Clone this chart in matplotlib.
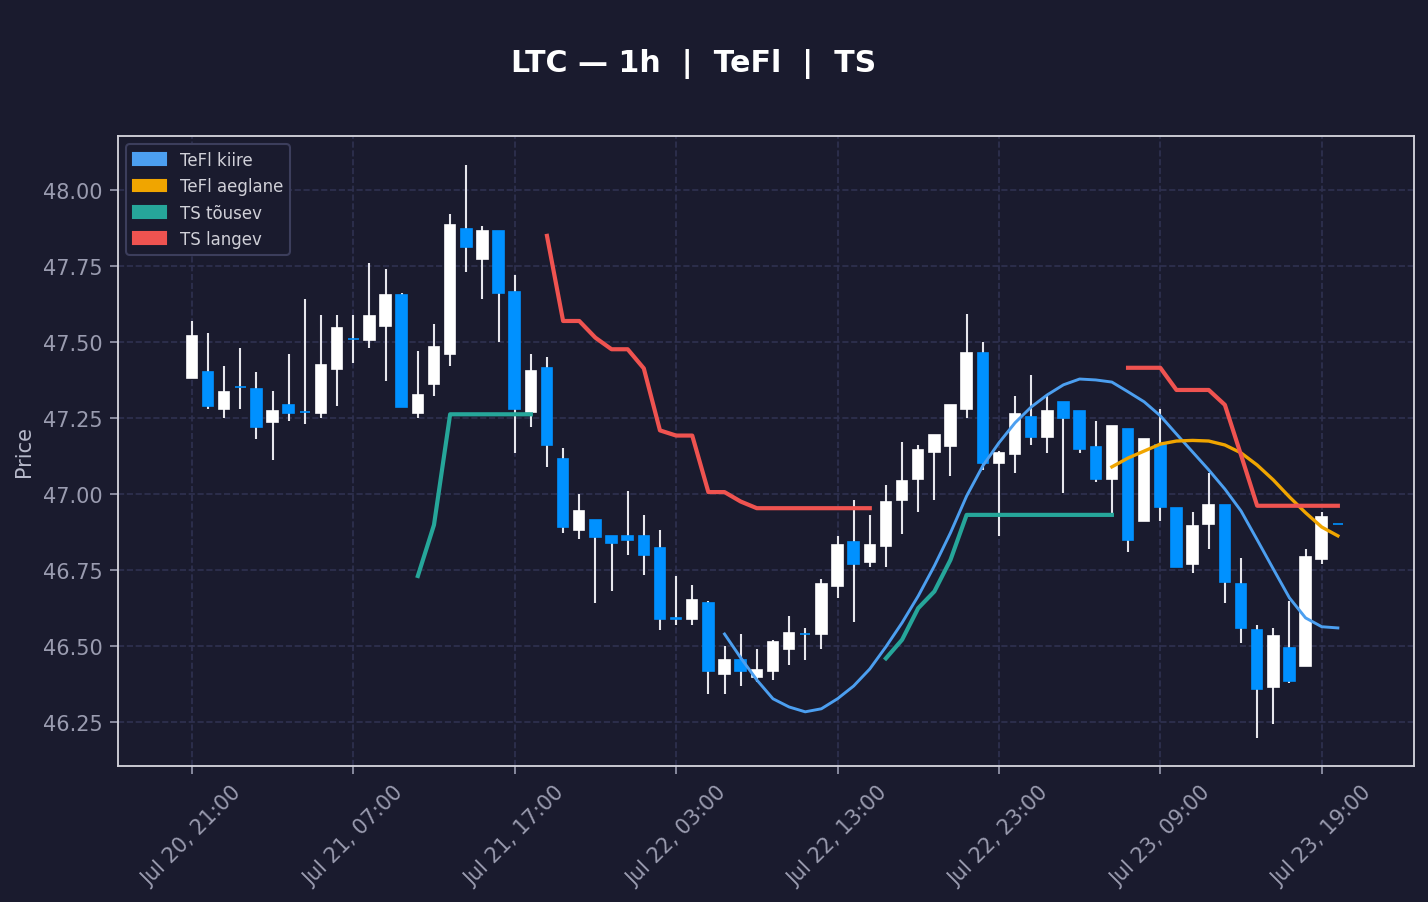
#!/usr/bin/env python3
"""LTC 1h candles with TeFl and TS overlays."""

import numpy as np
import pandas as pd
import matplotlib
matplotlib.use("Agg")
import matplotlib.pyplot as plt
import matplotlib.dates as mdates
from matplotlib.patches import Patch

BG = '#1a1b2e'
UP = '#ffffff'
DOWN = '#0091ff'
WICK = '#e6e6ec'
C_KIIRE = '#4c9ff0'
C_AEGLANE = '#f0a500'
C_TOUSEV = '#26a69a'
C_LANGEV = '#ef5350'

start = "2024-07-20 21:00"

opens = [47.38, 47.40, 47.28, 47.353, 47.345, 47.238, 47.292, 47.271, 47.267, 47.41,
         47.511, 47.508, 47.552, 47.654, 47.267, 47.361, 47.46, 47.873, 47.772, 47.864,
         47.664, 47.269, 47.413, 47.114, 46.881, 46.913, 46.86, 46.86, 46.86, 46.821,
         46.591, 46.588, 46.64, 46.407, 46.454, 46.397, 46.416, 46.489, 46.540, 46.538,
         46.698, 46.841, 46.777, 46.827, 46.979, 47.048, 47.139, 47.159, 47.279, 47.463,
         47.101, 47.131, 47.252, 47.188, 47.302, 47.272, 47.154, 47.048, 47.213, 46.91,
         47.161, 46.953, 46.769, 46.90, 46.963, 46.703, 46.552, 46.366, 46.492, 46.435,
         46.787, 46.902]
highs = [47.57, 47.53, 47.42, 47.48, 47.40, 47.34, 47.46, 47.64, 47.59, 47.59,
         47.59, 47.76, 47.74, 47.66, 47.47, 47.56, 47.92, 48.081, 47.882, 47.864,
         47.719, 47.461, 47.45, 47.15, 47.0, 46.913, 46.86, 47.01, 46.93, 46.882,
         46.73, 46.701, 46.648, 46.50, 46.538, 46.49, 46.519, 46.599, 46.559, 46.72,
         46.86, 46.98, 46.931, 47.03, 47.171, 47.16, 47.193, 47.292, 47.592, 47.50,
         47.142, 47.321, 47.39, 47.321, 47.302, 47.272, 47.24, 47.223, 47.213, 47.182,
         47.279, 46.953, 46.94, 47.068, 46.963, 46.788, 46.568, 46.558, 46.648, 46.819,
         46.942, 46.902]
lows = [47.38, 47.28, 47.25, 47.28, 47.18, 47.11, 47.24, 47.23, 47.25, 47.29,
        47.43, 47.48, 47.373, 47.285, 47.25, 47.323, 47.422, 47.731, 47.642, 47.501,
        47.134, 47.221, 47.09, 46.871, 46.851, 46.64, 46.682, 46.80, 46.733, 46.553,
        46.57, 46.57, 46.34, 46.34, 46.369, 46.382, 46.388, 46.438, 46.452, 46.49,
        46.659, 46.58, 46.761, 46.761, 46.869, 46.941, 46.98, 47.059, 47.25, 47.079,
        46.86, 47.07, 47.162, 47.133, 47.002, 47.133, 47.04, 46.936, 46.81, 46.91,
        46.912, 46.759, 46.741, 46.82, 46.64, 46.511, 46.198, 46.242, 46.379, 46.435,
        46.77, 46.90]
closes = [47.52, 47.29, 47.335, 47.351, 47.22, 47.272, 47.267, 47.269, 47.423, 47.545,
          47.509, 47.585, 47.654, 47.287, 47.325, 47.483, 47.884, 47.812, 47.864, 47.66,
          47.279, 47.404, 47.16, 46.89, 46.943, 46.858, 46.838, 46.848, 46.799, 46.588,
          46.589, 46.65, 46.416, 46.454, 46.416, 46.42, 46.512, 46.542, 46.538, 46.703,
          46.831, 46.769, 46.831, 46.973, 47.043, 47.144, 47.193, 47.292, 47.463, 47.101,
          47.134, 47.262, 47.188, 47.272, 47.249, 47.149, 47.048, 47.223, 46.849, 47.182,
          46.958, 46.759, 46.894, 46.963, 46.71, 46.558, 46.358, 46.532, 46.386, 46.792,
          46.923, 46.90]

# overlay segments: (first bar time, values)
kiire_start = "2024-07-22 06:00"
kiire = [46.539, 46.461, 46.388, 46.326, 46.299, 46.283, 46.293, 46.326, 46.368, 46.424,
         46.497, 46.576, 46.664, 46.763, 46.872, 46.993, 47.092, 47.168, 47.234, 47.286,
         47.326, 47.359, 47.378, 47.375, 47.368, 47.336, 47.303, 47.257, 47.197, 47.138,
         47.079, 47.016, 46.944, 46.849, 46.753, 46.658, 46.592, 46.563, 46.559]
aeglane_start = "2024-07-23 06:00"
aeglane = [47.089, 47.118, 47.141, 47.164, 47.174, 47.176, 47.174, 47.161, 47.135, 47.095,
           47.046, 46.990, 46.938, 46.891, 46.862]
tousev_segments = [
    ("2024-07-21 11:00", [46.730, 46.898, 47.262, 47.262, 47.262, 47.262, 47.262, 47.262]),
    ("2024-07-22 16:00", [46.459, 46.520, 46.624, 46.679, 46.783, 46.931, 46.931, 46.931,
                          46.931, 46.931, 46.931, 46.931, 46.931, 46.931, 46.931]),
]
langev_segments = [
    ("2024-07-21 19:00", [47.849, 47.569, 47.569, 47.514, 47.476, 47.476, 47.413, 47.209,
                          47.192, 47.192, 47.006, 47.006, 46.975, 46.953, 46.953, 46.953,
                          46.953, 46.953, 46.953, 46.953, 46.953]),
    ("2024-07-23 07:00", [47.415, 47.415, 47.415, 47.342, 47.342, 47.342, 47.293, 47.128,
                          46.961, 46.961, 46.961, 46.961, 46.961, 46.961]),
]


def hourly(t0, n):
    return pd.date_range(t0, periods=n, freq='h')


def plot_chart(savefig='out.png'):
    times = hourly(start, len(opens))
    o = np.array(opens)
    h = np.array(highs)
    l = np.array(lows)
    c = np.array(closes)
    up = c > o

    fig = plt.figure(figsize=(9.52, 6.02), dpi=150, facecolor=BG)
    ax = fig.add_axes([0.0826, 0.1507, 0.9074, 0.6977])
    ax.set_facecolor(BG)

    width = 0.65 / 24
    ax.vlines(times, l, h, color=WICK, linewidth=1.0, zorder=2)
    colors = np.where(up, UP, DOWN)
    ax.bar(times, np.abs(c - o), width=width, bottom=np.minimum(o, c),
           color=colors, edgecolor=colors, linewidth=0.8, zorder=3)

    ax.plot(hourly(kiire_start, len(kiire)), kiire, color=C_KIIRE, lw=1.4, zorder=4)
    ax.plot(hourly(aeglane_start, len(aeglane)), aeglane, color=C_AEGLANE, lw=1.6, zorder=4)
    for t0, vals in tousev_segments:
        ax.plot(hourly(t0, len(vals)), vals, color=C_TOUSEV, lw=2.0, zorder=4)
    for t0, vals in langev_segments:
        ax.plot(hourly(t0, len(vals)), vals, color=C_LANGEV, lw=2.0, zorder=4)

    t_start = pd.Timestamp(start)
    ax.set_xlim(t_start - pd.Timedelta(hours=4.58), t_start + pd.Timedelta(hours=75.7))
    ax.set_ylim(46.105, 48.178)

    ticks = pd.date_range(start, periods=8, freq='10h')
    ax.set_xticks(ticks)
    ax.xaxis.set_major_formatter(mdates.DateFormatter('%b %d, %H:%M'))
    ax.set_yticks([46.25, 46.5, 46.75, 47.0, 47.25, 47.5, 47.75, 48.0])
    ax.yaxis.set_major_formatter(plt.FormatStrFormatter('%.2f'))
    ax.tick_params(axis='both', colors='#9a9cb0', labelsize=10, length=4)
    plt.setp(ax.get_xticklabels(), rotation=45)

    ax.grid(True, color='#2f3150', linestyle='--', linewidth=0.8)
    ax.set_axisbelow(True)
    for sp in ax.spines.values():
        sp.set_color('#d0d0d8')
        sp.set_linewidth(0.9)

    ax.set_ylabel('Price', color='#b8bacb', fontsize=10)

    handles = [Patch(color=C_KIIRE, label='TeFl kiire'),
               Patch(color=C_AEGLANE, label='TeFl aeglane'),
               Patch(color=C_TOUSEV, label='TS tõusev'),
               Patch(color=C_LANGEV, label='TS langev')]
    ax.legend(handles=handles, loc='upper left', fontsize=8, labelspacing=0.5,
              facecolor=BG, edgecolor='#3c3e5c', labelcolor='#d0d0d8',
              framealpha=1.0)

    fig.text(0.4856, 0.929, 'LTC — 1h  |  TeFl  |  TS', ha='center', va='center',
             color='white', fontsize=14.4, fontweight='bold')

    fig.savefig(savefig, dpi=150, facecolor=BG)


if __name__ == '__main__':
    plot_chart()
